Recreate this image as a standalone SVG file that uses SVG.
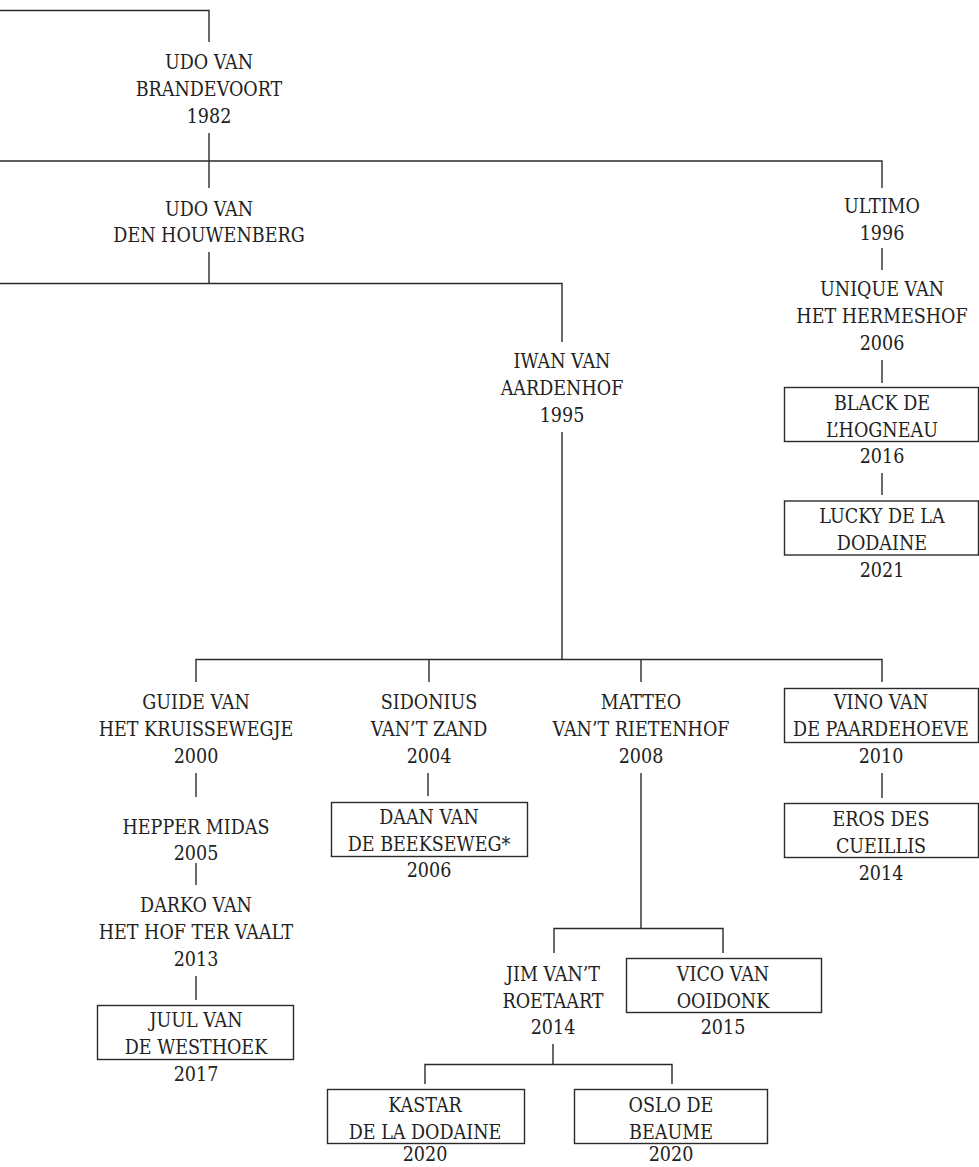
<svg xmlns="http://www.w3.org/2000/svg" width="979" height="1167" viewBox="0 0 979 1167">
<style>
text{font-family:"DejaVu Serif Condensed","DejaVu Serif","Liberation Serif",serif;font-stretch:condensed;font-size:19.5px;fill:#222;text-anchor:middle}
.box{fill:none;stroke:#2a2a2a;stroke-width:1.4}
.c{fill:none;stroke:#2a2a2a;stroke-width:1.4}
</style>
<rect width="979" height="1167" fill="#fff"/>
<g id="connectors">
<path class="c" d="M0 10.5H209V42"/>
<path class="c" d="M209 133V188"/>
<path class="c" d="M0 161H882V188"/>
<path class="c" d="M209 252V283"/>
<path class="c" d="M0 283.5H562V342"/>
<path class="c" d="M562 432V659"/>
<path class="c" d="M196 682V659.5H882V682M429 659.5V682M641 659.5V682"/>
<path class="c" d="M882 248V270"/>
<path class="c" d="M882 360V383"/>
<path class="c" d="M882 473V495"/>
<path class="c" d="M196 773V797"/>
<path class="c" d="M196 863V885"/>
<path class="c" d="M196 976V1000"/>
<path class="c" d="M428 773V796"/>
<path class="c" d="M882 773V798"/>
<path class="c" d="M641 773V928.5M554 953V928.5H723V953"/>
<path class="c" d="M553 1044V1064.5M425 1084V1064.5H672V1084"/>
</g>
<g id="udo-brandevoort"><text x="209" y="69">UDO VAN</text><text x="209" y="96">BRANDEVOORT</text><text x="209" y="123">1982</text></g>
<g id="udo-houwenberg"><text x="209" y="216">UDO VAN</text><text x="209" y="242">DEN HOUWENBERG</text></g>
<g id="iwan"><text x="562" y="368">IWAN VAN</text><text x="562" y="395">AARDENHOF</text><text x="562" y="422">1995</text></g>
<g id="ultimo"><text x="882" y="213">ULTIMO</text><text x="882" y="240">1996</text></g>
<g id="unique"><text x="882" y="296">UNIQUE VAN</text><text x="882" y="323">HET HERMESHOF</text><text x="882" y="350">2006</text></g>
<g id="black"><rect class="box" x="784.5" y="387.5" width="194" height="54"/><text x="882" y="410">BLACK DE</text><text x="882" y="437">L’HOGNEAU</text><text x="882" y="463">2016</text></g>
<g id="lucky"><rect class="box" x="784.5" y="501" width="194" height="54"/><text x="882" y="523">LUCKY DE LA</text><text x="882" y="550">DODAINE</text><text x="882" y="577">2021</text></g>
<g id="guide"><text x="196" y="709">GUIDE VAN</text><text x="196" y="736">HET KRUISSEWEGJE</text><text x="196" y="763">2000</text></g>
<g id="hepper"><text x="196" y="834">HEPPER MIDAS</text><text x="196" y="860">2005</text></g>
<g id="darko"><text x="196" y="912">DARKO VAN</text><text x="196" y="939">HET HOF TER VAALT</text><text x="196" y="966">2013</text></g>
<g id="juul"><rect class="box" x="97.5" y="1005.5" width="196" height="54"/><text x="196" y="1027">JUUL VAN</text><text x="196" y="1054">DE WESTHOEK</text><text x="196" y="1081">2017</text></g>
<g id="sidonius"><text x="429" y="709">SIDONIUS</text><text x="429" y="736">VAN’T ZAND</text><text x="429" y="763">2004</text></g>
<g id="daan"><rect class="box" x="331.5" y="802.5" width="196" height="54"/><text x="429" y="824">DAAN VAN</text><text x="429" y="851">DE BEEKSEWEG*</text><text x="429" y="877">2006</text></g>
<g id="matteo"><text x="641" y="709">MATTEO</text><text x="641" y="736">VAN’T RIETENHOF</text><text x="641" y="763">2008</text></g>
<g id="vino"><rect class="box" x="784.5" y="688.5" width="194" height="54"/><text x="881" y="709">VINO VAN</text><text x="881" y="736">DE PAARDEHOEVE</text><text x="881" y="763">2010</text></g>
<g id="eros"><rect class="box" x="784.5" y="803.5" width="194" height="54"/><text x="881" y="826">EROS DES</text><text x="881" y="853">CUEILLIS</text><text x="881" y="880">2014</text></g>
<g id="jim"><text x="553" y="981">JIM VAN’T</text><text x="553" y="1008">ROETAART</text><text x="553" y="1034">2014</text></g>
<g id="vico"><rect class="box" x="626.5" y="958.5" width="195" height="54"/><text x="723" y="981">VICO VAN</text><text x="723" y="1008">OOIDONK</text><text x="723" y="1034">2015</text></g>
<g id="kastar"><rect class="box" x="327.5" y="1089.5" width="197" height="54"/><text x="425" y="1112">KASTAR</text><text x="425" y="1139">DE LA DODAINE</text><text x="425" y="1161">2020</text></g>
<g id="oslo"><rect class="box" x="574.5" y="1089.5" width="193" height="54"/><text x="671" y="1112">OSLO DE</text><text x="671" y="1139">BEAUME</text><text x="671" y="1161">2020</text></g>
</svg>
